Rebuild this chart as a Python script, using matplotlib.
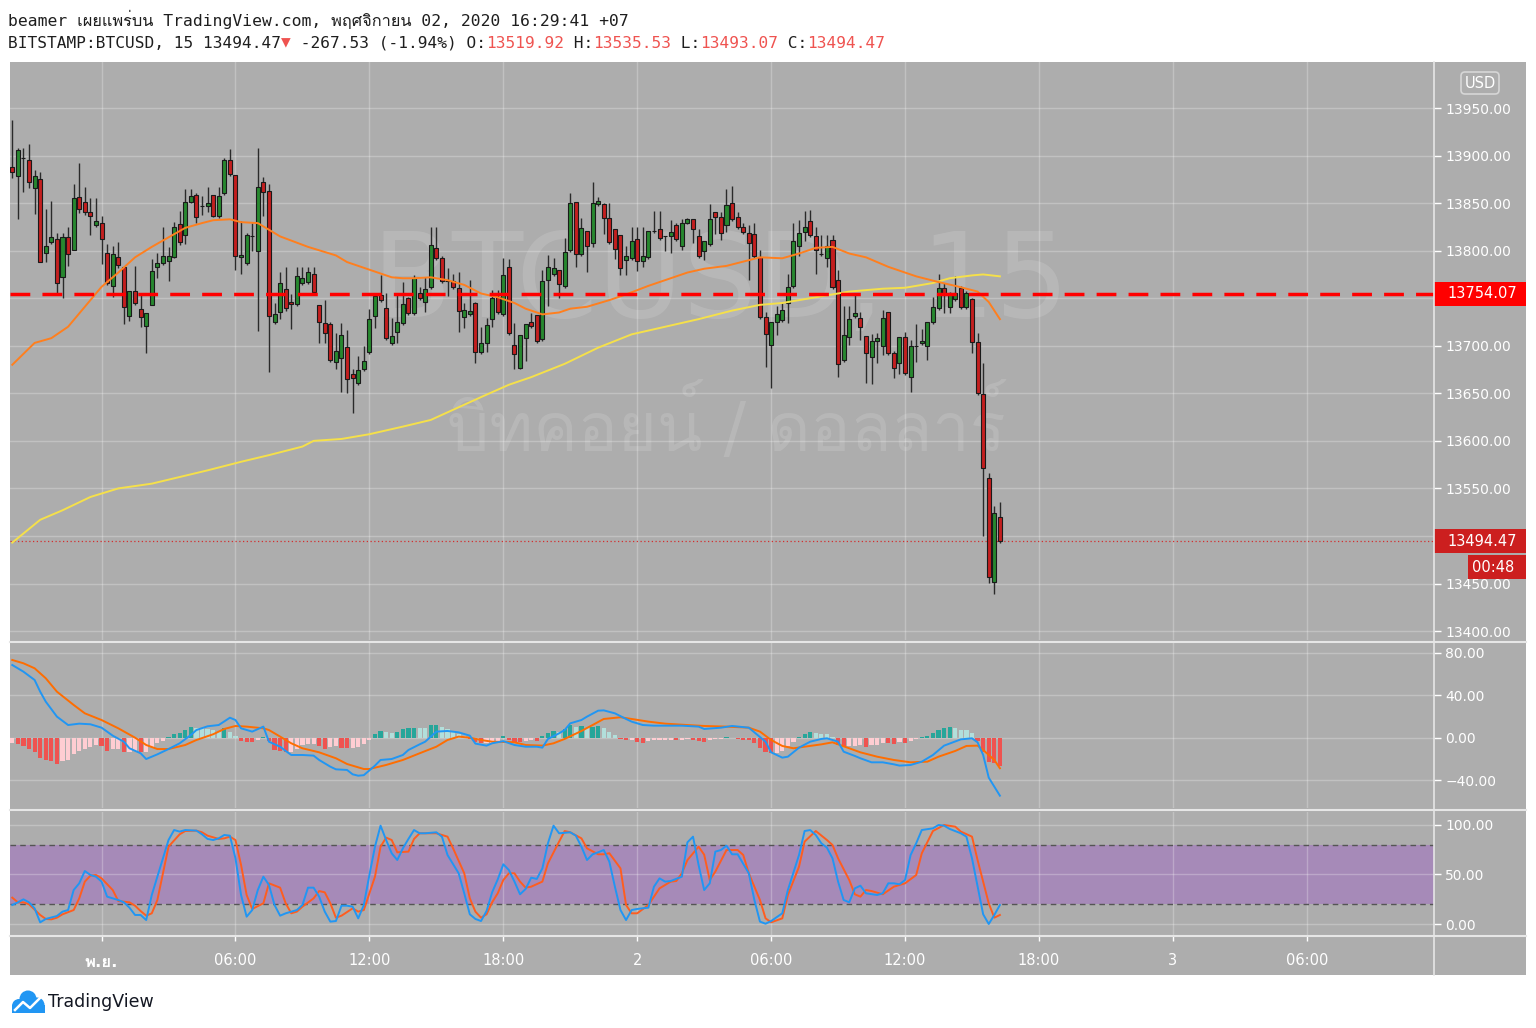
import numpy as np
import pandas as pd
import matplotlib
matplotlib.use("Agg")
import matplotlib.pyplot as plt
import matplotlib.font_manager as fm
from matplotlib.ft2font import FT2Font
from matplotlib.patches import Rectangle, Circle, FancyBboxPatch
from matplotlib.ticker import FuncFormatter

# BTCUSD 15m candles, Oct 31 20:00 -> Nov 2 16:15
opens = [
    13888, 13878, 13897, 13895, 13866, 13875, 13798, 13809, 13812, 13772,
    13814, 13801, 13856, 13851, 13841, 13827, 13829, 13798, 13763, 13793,
    13783, 13731, 13758, 13739, 13721, 13743, 13783, 13787, 13789, 13793,
    13828, 13816, 13851, 13859, 13847, 13847, 13859, 13836, 13861, 13895,
    13880, 13793, 13787, 13815, 13800, 13872, 13863, 13725, 13735, 13760,
    13746, 13744, 13766, 13767, 13775, 13743, 13724, 13723, 13683, 13687,
    13699, 13670, 13661, 13676, 13693, 13731, 13753, 13740, 13703, 13714,
    13724, 13750, 13734, 13755, 13746, 13762, 13803, 13792, 13768, 13768,
    13761, 13730, 13733, 13745, 13693, 13703, 13728, 13751, 13733, 13783,
    13701, 13677, 13708, 13725, 13732, 13707, 13769, 13775, 13780, 13763,
    13801, 13851, 13796, 13821, 13808, 13849, 13849, 13834, 13823, 13816,
    13790, 13792, 13812, 13789, 13793, 13821, 13823, 13815, 13815, 13827,
    13805, 13829, 13833, 13815, 13800, 13807, 13841, 13835, 13827, 13850,
    13835, 13825, 13819, 13818, 13793, 13730, 13701, 13725, 13727, 13745,
    13763, 13805, 13820, 13831, 13815, 13796, 13792, 13811, 13769, 13685,
    13709, 13731, 13729, 13710, 13688, 13705, 13700, 13735, 13692, 13682,
    13709, 13667, 13700, 13703, 13700, 13725, 13740, 13761, 13741, 13749,
    13761, 13741, 13749, 13704, 13649, 13561, 13452, 13519.92]
highs = [
    13937, 13908, 13908, 13912, 13885, 13883, 13844, 13852, 13819, 13819,
    13825, 13870, 13892, 13867, 13855, 13855, 13836, 13807, 13805, 13809,
    13783, 13758, 13784, 13754, 13734, 13791, 13798, 13825, 13804, 13830,
    13842, 13865, 13865, 13861, 13857, 13867, 13859, 13867, 13897, 13907,
    13880, 13831, 13819, 13829, 13908, 13877, 13870, 13745, 13778, 13783,
    13754, 13783, 13783, 13783, 13783, 13743, 13748, 13725, 13713, 13724,
    13717, 13676, 13689, 13700, 13739, 13753, 13774, 13755, 13729, 13755,
    13767, 13751, 13774, 13762, 13772, 13825, 13825, 13794, 13782, 13775,
    13778, 13745, 13769, 13746, 13720, 13729, 13759, 13759, 13792, 13791,
    13724, 13711, 13723, 13734, 13732, 13780, 13795, 13792, 13780, 13813,
    13861, 13851, 13834, 13821, 13872, 13856, 13850, 13850, 13823, 13816,
    13805, 13825, 13825, 13825, 13821, 13842, 13842, 13815, 13832, 13829,
    13833, 13834, 13833, 13823, 13810, 13849, 13841, 13841, 13865, 13868,
    13841, 13829, 13827, 13829, 13801, 13735, 13725, 13742, 13745, 13775,
    13829, 13832, 13842, 13843, 13825, 13816, 13816, 13817, 13780, 13742,
    13742, 13754, 13735, 13710, 13712, 13713, 13738, 13735, 13694, 13709,
    13714, 13706, 13723, 13718, 13725, 13751, 13775, 13766, 13757, 13773,
    13763, 13758, 13750, 13713, 13682, 13566, 13532, 13535.53]
lows = [
    13876, 13833, 13862, 13866, 13839, 13788, 13788, 13807, 13754, 13750,
    13784, 13801, 13840, 13838, 13816, 13825, 13786, 13764, 13751, 13782,
    13723, 13726, 13743, 13720, 13692, 13743, 13771, 13785, 13768, 13792,
    13806, 13807, 13850, 13829, 13837, 13841, 13835, 13834, 13859, 13878,
    13780, 13775, 13785, 13800, 13716, 13836, 13672, 13723, 13728, 13737,
    13718, 13742, 13764, 13765, 13753, 13703, 13703, 13683, 13676, 13651,
    13650, 13629, 13659, 13673, 13691, 13719, 13746, 13706, 13701, 13703,
    13722, 13732, 13732, 13748, 13735, 13760, 13790, 13766, 13752, 13760,
    13714, 13719, 13731, 13682, 13691, 13693, 13720, 13733, 13731, 13711,
    13676, 13676, 13684, 13719, 13703, 13705, 13742, 13773, 13750, 13761,
    13799, 13783, 13794, 13778, 13804, 13847, 13818, 13807, 13791, 13774,
    13774, 13790, 13779, 13783, 13791, 13819, 13811, 13800, 13798, 13810,
    13801, 13828, 13808, 13792, 13790, 13805, 13818, 13811, 13820, 13831,
    13823, 13818, 13769, 13792, 13728, 13678, 13656, 13711, 13725, 13724,
    13761, 13794, 13810, 13814, 13775, 13794, 13783, 13760, 13667, 13683,
    13701, 13729, 13706, 13661, 13660, 13682, 13690, 13690, 13666, 13670,
    13669, 13651, 13683, 13701, 13685, 13723, 13738, 13734, 13734, 13747,
    13739, 13739, 13692, 13648, 13500, 13451, 13439, 13493.07]
closes = [
    13883, 13906, 13897, 13872, 13878, 13788, 13805, 13814, 13766, 13814,
    13796, 13855, 13844, 13841, 13836, 13831, 13812, 13766, 13796, 13785,
    13741, 13758, 13745, 13730, 13734, 13779, 13787, 13794, 13794, 13825,
    13809, 13851, 13857, 13835, 13847, 13850, 13836, 13857, 13895, 13881,
    13794, 13795, 13816, 13815, 13867, 13862, 13731, 13733, 13766, 13740,
    13744, 13773, 13771, 13778, 13757, 13725, 13713, 13685, 13694, 13711,
    13665, 13666, 13675, 13684, 13728, 13752, 13748, 13708, 13710, 13725,
    13744, 13734, 13771, 13750, 13760, 13806, 13792, 13768, 13768, 13762,
    13737, 13738, 13737, 13693, 13703, 13722, 13750, 13735, 13774, 13713,
    13691, 13711, 13723, 13721, 13705, 13768, 13783, 13782, 13765, 13799,
    13850, 13796, 13824, 13805, 13850, 13852, 13834, 13809, 13802, 13782,
    13794, 13810, 13789, 13794, 13821, 13821, 13813, 13815, 13820, 13812,
    13829, 13833, 13823, 13794, 13810, 13833, 13835, 13819, 13848, 13833,
    13825, 13820, 13808, 13794, 13730, 13712, 13725, 13733, 13738, 13762,
    13810, 13819, 13825, 13816, 13801, 13796, 13805, 13762, 13681, 13711,
    13728, 13734, 13720, 13692, 13705, 13708, 13729, 13692, 13677, 13709,
    13671, 13700, 13700, 13705, 13725, 13741, 13761, 13753, 13755, 13755,
    13741, 13755, 13704, 13650, 13571, 13457, 13524, 13494.47]

# moving averages on the price pane (candle index, price)
fast_idx = [0, 4, 7, 10, 13, 16, 19, 22, 25, 28, 31, 34, 36, 39, 41, 44, 46, 48, 53, 58,
            60, 64, 68, 70, 72, 75, 78, 81, 84, 87, 90, 92, 95, 98, 100, 103, 107, 110, 114, 117,
            121, 124, 128, 132, 134, 138, 141, 144, 147, 150, 153, 157, 162, 166, 169, 173, 175, 177]
fast_val = [13680, 13703, 13708, 13720, 13741, 13762, 13777, 13793, 13804, 13814,
            13824, 13829, 13832, 13833, 13830, 13829, 13822, 13815, 13804, 13795,
            13788, 13780, 13772, 13771, 13771, 13772, 13769, 13764, 13755, 13751,
            13745, 13739, 13733, 13735, 13739, 13741, 13748, 13754, 13763, 13769,
            13777, 13781, 13784, 13790, 13793, 13792, 13797, 13803, 13804, 13797,
            13793, 13783, 13773, 13767, 13763, 13757, 13746, 13728]
slow_idx = [0, 5, 9, 14, 19, 25, 30, 35, 41, 46, 52, 54, 59, 64, 70, 75, 84, 89, 93, 99,
            105, 111, 117, 123, 129, 134, 138, 144, 150, 156, 160, 165, 168, 172, 174, 177]
slow_val = [13493, 13517, 13527, 13541, 13550, 13555, 13562, 13569, 13578, 13585,
            13594, 13600, 13602, 13607, 13615, 13622, 13646, 13659, 13667, 13681,
            13698, 13712, 13720, 13728, 13737, 13743, 13745, 13751, 13757, 13760,
            13761, 13766, 13771, 13774, 13775, 13773]
ref_level = 13754.07
last_price = 13494.47

# MACD pane
hist = [
    -5.0, -6.0, -7.5, -10.3, -13.5, -18.5, -21.0, -21.3, -24.5, -21.6,
    -21.0, -15.4, -12.2, -10.0, -8.8, -6.5, -7.5, -12.0, -10.7, -10.5,
    -13.5, -12.8, -12.2, -13.5, -12.8, -8.2, -5.0, -2.5, 1.0, 4.1,
    4.7, 7.2, 10.3, 9.7, 9.1, 8.5, 7.2, 6.0, 9.1, 5.3,
    2.2, -2.5, -3.4, -4.1, -1.6, 0.9, -2.8, -11.0, -12.0, -13.0,
    -12.8, -10.3, -6.5, -5.6, -5.6, -7.2, -10.3, -8.2, -7.2, -9.4,
    -9.7, -9.4, -8.5, -6.0, -2.0, 4.1, 6.6, 5.3, 5.0, 5.9,
    8.0, 9.7, 9.7, 9.5, 9.4, 12.2, 12.3, 10.7, 8.5, 5.3,
    3.4, 2.2, -1.3, -3.4, -5.0, -4.5, -4.4, -3.5, 1.9, -1.9,
    -3.4, -4.1, -2.8, -2.2, -2.8, 1.6, 5.0, 6.9, 5.3, 8.2,
    12.2, 10.7, 11.3, 9.7, 10.7, 11.0, 9.1, 5.3, 2.8, -0.6,
    -1.9, -1.6, -3.8, -4.4, -3.1, -2.2, -2.0, -1.9, -1.8, -2.2,
    -1.6, -1.3, -1.6, -2.8, -3.4, -1.6, -1.3, -0.9, 0.6, 0.3,
    -0.9, -1.6, -2.2, -5.0, -9.7, -13.5, -14.4, -14.1, -12.2, -7.5,
    -3.4, 1.3, 3.8, 5.3, 4.7, 4.1, 3.8, 0.6, -6.6, -7.8,
    -7.5, -7.2, -6.9, -8.2, -6.6, -6.3, -4.4, -4.7, -5.6, -3.4,
    -4.4, -2.5, -1.3, 0.9, 1.9, 4.7, 7.5, 9.1, 10.0, 9.1,
    7.8, 7.5, 4.4, -2.5, -12.9, -22.9, -23.8, -26.0]
macd_idx = [0, 2, 4, 5, 6, 8, 10, 12, 14, 16, 18, 20, 21, 23, 24, 26, 28, 30, 32, 33,
            35, 37, 39, 40, 41, 43, 45, 46, 48, 49, 50, 52, 54, 55, 57, 58, 60, 61, 62, 63,
            65, 66, 68, 70, 71, 73, 74, 76, 78, 80, 82, 83, 85, 86, 88, 90, 92, 94, 95, 96,
            98, 99, 100, 102, 103, 105, 106, 108, 110, 111, 113, 115, 117, 120, 123, 124, 127, 129, 132, 133,
            135, 136, 138, 139, 141, 143, 145, 146, 148, 149, 151, 152, 154, 156, 158, 159, 161, 163, 165, 167,
            170, 172, 173, 174, 175, 177]
macd_val = [68.7, 62.4, 54.6, 43.6, 34.2, 20.1, 12.2, 13.5, 12.9, 9.7,
            2.2, -3.5, -9.7, -14.4, -19.8, -15.4, -10.4, -5.0, 2.8, 7.5,
            11.0, 12.2, 19.1, 16.9, 9.1, 6.0, 10.7, -3.5, -8.2, -12.2,
            -16.0, -16.0, -16.6, -20.7, -27.0, -29.5, -30.1, -34.2, -35.5, -35.0,
            -26.0, -20.7, -19.8, -16.0, -11.3, -6.0, -3.5, 6.0, 6.6, 5.3,
            2.2, -5.3, -7.2, -5.0, -3.0, -6.6, -8.2, -8.2, -9.1, -0.9,
            4.4, 7.5, 13.8, 16.9, 20.1, 25.7, 26.0, 23.2, 17.9, 15.4,
            12.2, 11.6, 11.6, 11.6, 10.7, 8.5, 9.7, 11.3, 9.7, 5.3,
            -3.5, -13.5, -18.5, -17.6, -9.1, -3.5, -0.9, -0.3, -3.5, -12.9,
            -16.9, -19.1, -22.9, -22.9, -24.8, -26.0, -25.4, -22.3, -16.0, -7.2,
            -1.3, -0.3, -4.1, -16.0, -37.3, -54.3]
sig_idx = [0, 2, 4, 6, 8, 11, 13, 16, 19, 22, 24, 26, 28, 31, 33, 36, 38, 40, 42, 45,
           46, 48, 50, 52, 55, 58, 60, 63, 64, 67, 70, 73, 76, 78, 80, 82, 84, 86, 89, 90,
           92, 95, 97, 99, 102, 104, 106, 109, 111, 114, 117, 121, 124, 128, 132, 134, 136, 138, 140, 142,
           145, 147, 150, 152, 155, 158, 161, 164, 166, 169, 171, 173, 174, 176, 177]
sig_val = [73.4, 70.3, 65.6, 56.2, 43.6, 31.1, 23.2, 16.9, 9.1, 0.3,
           -6.6, -10.4, -10.4, -6.6, -1.9, 3.5, 8.5, 11.3, 10.7, 9.1,
           7.5, 1.3, -5.0, -9.7, -13.5, -19.1, -24.5, -29.2, -29.2, -25.4,
           -20.7, -14.4, -8.2, -1.9, 1.3, 0.3, -1.9, -3.5, -3.8, -4.1,
           -6.6, -7.2, -5.0, -0.9, 6.6, 12.2, 17.9, 19.5, 17.9, 15.4,
           13.5, 12.2, 11.3, 10.7, 9.7, 6.0, -1.9, -7.5, -9.7, -8.2,
           -6.0, -4.1, -9.7, -13.5, -17.6, -20.7, -22.9, -22.3, -17.6, -12.2,
           -7.5, -7.2, -11.3, -20.7, -28.5]

# Stoch RSI pane
k_idx = [0, 1, 2, 3, 4, 5, 6, 8, 9, 10, 11, 12, 13, 14, 15, 16, 17, 19, 20, 21,
         22, 23, 24, 25, 27, 28, 29, 30, 31, 33, 34, 35, 36, 37, 38, 39, 40, 41, 42, 43,
         44, 45, 46, 47, 48, 49, 51, 52, 53, 54, 55, 56, 57, 58, 59, 60, 61, 62, 63, 64,
         65, 66, 67, 68, 69, 70, 71, 72, 73, 74, 76, 77, 78, 80, 81, 82, 83, 84, 85, 86,
         87, 88, 89, 90, 91, 92, 93, 94, 95, 96, 97, 98, 100, 101, 102, 103, 104, 105, 106, 107,
         108, 109, 110, 111, 112, 114, 115, 116, 117, 118, 120, 121, 122, 123, 124, 125, 126, 127, 128, 129,
         130, 132, 133, 134, 135, 136, 138, 139, 141, 142, 143, 144, 145, 146, 147, 148, 149, 150, 151, 152,
         153, 155, 156, 157, 158, 159, 160, 161, 162, 163, 165, 166, 167, 168, 170, 171, 172, 174, 175, 176,
         177]
k_val = [19.2, 21.9, 24.9, 21.9, 15.8, 1.7, 5.1, 8.1, 12.5, 14.1,
         34.3, 41.1, 53.5, 49.5, 47.8, 42.8, 27.6, 24.2, 21.9, 16.5,
         9.1, 9.1, 4.0, 29.3, 66.3, 84.8, 94.9, 93.3, 94.9, 94.3,
         90.6, 85.9, 84.8, 86.5, 89.9, 89.2, 66.3, 29.3, 7.4, 14.1,
         34.3, 47.8, 39.4, 19.2, 8.4, 10.8, 14.1, 19.2, 36.7, 36.7,
         27.6, 12.5, 2.4, 3.0, 18.5, 18.5, 17.5, 5.7, 19.2, 49.5,
         78.1, 99.3, 84.8, 71.4, 64.6, 76.4, 85.9, 94.9, 91.6, 91.6,
         92.6, 88.2, 69.7, 51.2, 31.0, 9.8, 5.1, 3.0, 13.1, 32.0,
         45.0, 60.3, 54.5, 42.8, 30.0, 35.4, 46.8, 45.5, 56.2, 81.5,
         99.3, 91.6, 92.6, 89.2, 78.1, 64.6, 70.4, 72.4, 74.7, 63.0,
         37.7, 14.1, 4.0, 14.1, 15.2, 16.5, 37.7, 46.1, 42.8, 43.4,
         47.8, 82.5, 88.2, 59.6, 34.3, 41.1, 73.1, 74.7, 79.1, 70.4,
         70.4, 51.2, 24.2, 2.4, 0.3, 3.0, 10.8, 34.3, 69.7, 93.9,
         94.9, 89.9, 81.5, 77.1, 66.3, 42.8, 24.2, 21.9, 36.0, 38.7,
         31.0, 29.3, 31.0, 41.1, 41.1, 40.1, 44.4, 69.7, 81.5, 94.9,
         96.6, 100.0, 99.3, 96.0, 91.6, 88.2, 66.3, 9.8, 0.0, 9.1,
         19.2]
d_idx = [0, 1, 2, 3, 5, 6, 7, 8, 9, 11, 12, 13, 14, 15, 16, 18, 19, 21, 22, 23,
         24, 25, 26, 27, 28, 30, 31, 33, 34, 35, 37, 38, 39, 40, 41, 42, 43, 45, 46, 48,
         49, 50, 51, 52, 54, 55, 56, 57, 58, 59, 61, 62, 63, 65, 66, 67, 68, 69, 71, 72,
         73, 75, 76, 78, 79, 81, 82, 83, 84, 85, 86, 87, 88, 89, 90, 91, 92, 93, 95, 96,
         98, 99, 100, 102, 103, 105, 106, 107, 109, 110, 111, 112, 114, 116, 118, 119, 120, 121, 123, 124,
         125, 126, 128, 130, 131, 132, 134, 135, 136, 138, 139, 141, 142, 144, 146, 147, 148, 150, 151, 152,
         153, 154, 156, 158, 160, 162, 163, 165, 167, 169, 170, 172, 173, 175, 176, 177]
d_val = [26.6, 21.9, 21.9, 19.9, 9.1, 5.1, 4.7, 6.4, 9.8, 14.1,
         25.9, 42.8, 48.8, 49.5, 46.1, 34.3, 23.2, 21.9, 18.5, 13.1,
         8.4, 10.8, 24.2, 51.2, 78.1, 90.6, 93.9, 94.3, 92.6, 89.2,
         85.9, 86.5, 88.2, 84.8, 59.6, 29.3, 15.2, 20.9, 41.1, 36.7,
         20.9, 10.8, 12.5, 17.5, 25.9, 33.3, 32.0, 20.9, 6.4, 8.4,
         15.8, 12.5, 14.1, 47.8, 78.1, 87.2, 84.8, 72.4, 73.1, 85.9,
         91.6, 91.6, 91.6, 88.2, 76.4, 51.2, 25.9, 12.5, 6.4, 9.8,
         21.9, 31.0, 44.4, 51.2, 51.2, 42.8, 36.7, 37.7, 42.8, 61.3,
         83.2, 93.9, 92.6, 86.5, 76.4, 70.4, 70.4, 71.5, 56.2, 19.2,
         10.8, 10.8, 19.2, 36.0, 42.8, 43.4, 51.2, 64.6, 78.1, 70.0,
         44.4, 52.9, 74.7, 74.7, 69.7, 51.2, 24.2, 5.7, 1.7, 5.7,
         29.3, 57.9, 83.2, 93.9, 84.8, 79.8, 66.3, 44.4, 30.0, 27.6,
         34.3, 33.3, 30.0, 37.7, 41.1, 49.5, 71.4, 93.9, 100.0, 98.3,
         93.3, 88.2, 64.6, 20.9, 6.4, 9.1]

# time axis
first_bar = pd.Timestamp("2020-10-31 20:00")
tick_times = pd.date_range("2020-11-01 00:00", "2020-11-03 06:00", freq="6h")
tick_labels = ["พ.ย.", "06:00", "12:00", "18:00", "2", "06:00", "12:00", "18:00", "3", "06:00"]
price_ticks = [13400, 13450, 13500, 13550, 13600, 13650, 13700, 13750, 13800, 13850, 13900, 13950]

assert len(opens) == len(highs) == len(lows) == len(closes) == len(hist)


def thai_capable_fonts():
    found = []
    for f in fm.fontManager.ttflist:
        try:
            if FT2Font(f.fname).get_char_index(0x0E01) and f.name not in found:
                found.append(f.name)
        except Exception:
            pass
    return found


thai = thai_capable_fonts()[:1]
SANS = ["DejaVu Sans"] + thai
MONO = ["DejaVu Sans Mono"] + thai
plt.rcParams["font.family"] = SANS

BG = "#adadad"
GRID = dict(color="white", alpha=0.25, lw=1)
UP, DOWN = "#27882f", "#c41f1f"
W, H = 1536, 1028

fig = plt.figure(figsize=(W / 100, H / 100), dpi=100)
fig.patch.set_facecolor("white")
fig.add_artist(Rectangle((10 / W, 1 - 975 / H), 1516 / W, 913 / H,
                         transform=fig.transFigure, fc=BG, ec="none", zorder=-10))


def pane(y0, y1):
    ax = fig.add_axes([10 / W, 1 - y1 / H, 1424 / W, (y1 - y0) / H])
    ax.set_facecolor(BG)
    for s in ax.spines.values():
        s.set_visible(False)
    ax.yaxis.tick_right()
    ax.tick_params(axis="y", colors="white", length=5, width=1, pad=3,
                   labelsize=10, labelcolor="white")
    ax.tick_params(axis="x", length=0, labelbottom=False)
    return ax


tick_pos = (tick_times - first_bar) / pd.Timedelta("15min")
x = np.arange(len(closes))
xlim = (-0.41, 254.8)
fmt = FuncFormatter(lambda v, _: f"{v:.2f}".replace("-", "\u2212"))
# price labels that sit under the two price boxes are not drawn
price_fmt = FuncFormatter(lambda v, _: "" if min(abs(v - ref_level), abs(v - last_price)) < 10
                          else f"{v:.2f}")

# ---- price pane
ax_p = pane(62, 640)
o, c = np.array(opens), np.array(closes)
up = c >= o
ax_p.vlines(x, lows, highs, color="#2a2a2a", lw=1.0, zorder=3)
ax_p.bar(x, np.abs(c - o), bottom=np.minimum(o, c), width=0.72,
         color=np.where(up, UP, DOWN), edgecolor="#1a1a1a", linewidth=0.8, zorder=4)
ax_p.plot(slow_idx, slow_val, color="#f5e04a", lw=1.4, zorder=5)
ax_p.plot(fast_idx, fast_val, color="#ff7f1e", lw=1.4, zorder=5)
ax_p.axhline(ref_level, color="#ff0000", lw=2.5, dashes=(5.7, 3.5), zorder=6)
ax_p.axhline(last_price, color="#d32f2f", lw=0.9, linestyle=(0, (1, 2)), zorder=2)
ax_p.set_ylim(13390.6, 13998.4)
ax_p.set_yticks(price_ticks)
ax_p.yaxis.set_major_formatter(price_fmt)
ax_p.text(0.499, 0.615, "BTCUSD, 15", transform=ax_p.transAxes, ha="center", va="center",
          fontsize=84, color="white", alpha=0.13, zorder=1)
ax_p.text(0.503, 0.37, "บิทคอยน์ / ดอลลาร์", transform=ax_p.transAxes, ha="center",
          va="center", fontsize=48, color="white", alpha=0.13, zorder=1, family=SANS)

# ---- MACD pane
ax_m = pane(643, 808)
hv = np.array(hist)
prev = np.concatenate([[hv[0]], hv[:-1]])
hcol = np.where(hv >= 0, np.where(hv >= prev, "#26a69a", "#b2dfdb"),
                np.where(hv < prev, "#ef5350", "#ffcdd2"))
ax_m.bar(x, hv, width=0.75, color=hcol, zorder=3)
ax_m.plot(sig_idx, sig_val, color="#ff6d00", lw=1.4, zorder=4)
ax_m.plot(macd_idx, macd_val, color="#2196f3", lw=1.4, zorder=5)
ax_m.set_ylim(-65.9, 89.4)
ax_m.set_yticks([-40, 0, 40, 80])
ax_m.yaxis.set_major_formatter(fmt)

# ---- Stoch RSI pane
ax_s = pane(812, 935)
ax_s.axhspan(20, 80, color="#a68ab8", zorder=0.5, lw=0)
for lvl in (20, 80):
    ax_s.axhline(lvl, color="#555555", lw=1, dashes=(4, 3), zorder=2)
ax_s.plot(d_idx, d_val, color="#ff5d1f", lw=1.4, zorder=4)
ax_s.plot(k_idx, k_val, color="#2196f3", lw=1.4, zorder=5)
ax_s.set_ylim(-11.1, 113.1)
ax_s.set_yticks([0, 50, 100])
ax_s.yaxis.set_major_formatter(fmt)

for ax in (ax_p, ax_m, ax_s):
    ax.set_xlim(*xlim)
    ax.set_xticks(tick_pos)
    ax.grid(True, **GRID)
    ax.set_axisbelow(True)

ax_s.tick_params(axis="x", labelbottom=True, length=4, width=1, color="white",
                 pad=9, labelsize=10.5, labelcolor="white")
ax_s.set_xticklabels(tick_labels)
for t in ax_s.get_xticklabels():
    t.set_family(SANS)
    if t.get_text() == "พ.ย.":
        t.set_fontsize(12)
        t.set_fontweight("bold")

# ---- overlay in pixel coordinates
ov = fig.add_axes([0, 0, 1, 1], zorder=10)
ov.set_xlim(0, W)
ov.set_ylim(H, 0)
ov.axis("off")
for yy in (641.5, 810, 935.5):
    ov.plot([10, 1526], [yy, yy], color="#e6e6e6", lw=1.5)
ov.plot([1434, 1434], [62, 975], color="#e6e6e6", lw=1.2)

ov.add_patch(FancyBboxPatch((1461, 72), 38, 22, boxstyle="round,pad=0,rounding_size=4",
                            fc="none", ec="#d6d6d6", lw=1.2))
ov.text(1480, 83, "USD", color="white", fontsize=10.5, ha="center", va="center")

for y0, y1, x0, col, label in [(282, 306, 1434, "#ff0000", "13754.07"),
                               (529, 553, 1434, "#cc1f1f", "13494.47"),
                               (555, 579, 1468, "#cc1f1f", "00:48")]:
    ov.add_patch(Rectangle((x0, y0), 1526 - x0, y1 - y0, fc=col, ec="none"))
    ov.text(1514 if x0 > 1440 else 1447, (y0 + y1) / 2, label, color="white",
            fontsize=10.5, ha="right" if x0 > 1440 else "left", va="center")

# header
fig.text(8 / W, 1 - 19 / H, "beamer เผยแพร่บน TradingView.com, พฤศจิกายน 02, 2020 16:29:41 +07",
         family=MONO, fontsize=11.8, color="#1e1e1e", va="center")
dark, red = "#1e1e1e", "#ef5350"
segments = [("BITSTAMP:BTCUSD, 15 13494.47", dark), ("▼", red),
            (" -267.53 (-1.94%) O:", dark), ("13519.92", red), (" H:", dark), ("13535.53", red),
            (" L:", dark), ("13493.07", red), (" C:", dark), ("13494.47", red)]
renderer = fig.canvas.get_renderer()
px = 8
for s, col in segments:
    t = fig.text(px / W, 1 - 43 / H, s, family=MONO, fontsize=11.6, color=col, va="center")
    px += t.get_window_extent(renderer).width

# logo
logo = "#2196f3"
for cx, cy, r in [(19, 1006, 7), (28, 999, 8.5), (37, 1005, 7.5)]:
    ov.add_patch(Circle((cx, cy), r, fc=logo, ec="none"))
ov.add_patch(Rectangle((12, 1005), 33, 8, fc=logo, ec="none"))
ov.plot([15, 23, 30, 41], [1010, 1002, 1008, 997], color="white", lw=1.8)
ov.text(48, 1002, "TradingView", fontsize=12.5, color="#131722", va="center")

fig.savefig("out.png", dpi=100, facecolor="white")
